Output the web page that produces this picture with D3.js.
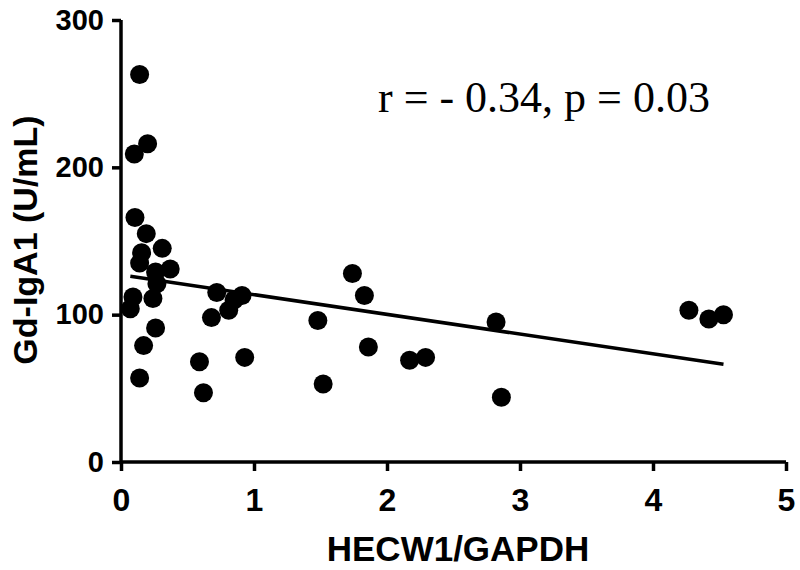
<!DOCTYPE html>
<html>
<head>
<meta charset="utf-8">
<script src="https://cdn.jsdelivr.net/npm/d3@7"></script>
<style>
  body { margin: 0; background: #fff; }
  svg text { fill: #000; }
</style>
</head>
<body>
<script>
// HECW1/GAPDH vs Gd-IgA1 values
var hecw1 = [0.14, 0.20, 0.10, 0.105, 0.19, 0.31, 0.155, 0.14, 0.37, 0.26,
             0.27, 0.24, 0.09, 0.07, 0.26, 0.17, 0.14, 0.59, 0.62, 0.72,
             0.91, 0.81, 0.68, 0.85, 0.93, 1.48, 1.52, 1.74, 1.83, 1.86,
             2.17, 2.29, 2.82, 2.86, 4.27, 4.42, 4.53];
var gdIgA1 = [263, 216, 209, 166, 155, 145, 142, 135, 131, 129,
              121, 111, 112, 104, 91, 79, 57, 68, 47, 115,
              113, 103, 98, 110, 71, 96, 53, 128, 113, 78,
              69, 71, 95, 44, 103, 97, 100];
var xTicks = [0, 1, 2, 3, 4, 5];
var yTicks = [0, 100, 200, 300];
var fitIntercept = 127;
var fitSlope = -13.4;
var statLabel = "r = - 0.34, p = 0.03";

var W = 800, H = 570;
var svg = d3.select("body").append("svg")
    .attr("width", W).attr("height", H);

var x = d3.scaleLinear().domain([0, 5]).range([121, 786]);
var y = d3.scaleLinear().domain([0, 300]).range([462, 20]);

// axes
var xAxis = svg.append("g")
    .attr("transform", "translate(0," + y(0) + ")")
    .call(d3.axisBottom(x).tickValues(xTicks).tickSize(9).tickPadding(17).tickFormat(d3.format("d")));
var yAxis = svg.append("g")
    .attr("transform", "translate(" + x(0) + ",0)")
    .call(d3.axisLeft(y).tickValues(yTicks).tickSize(9).tickPadding(8).tickFormat(d3.format("d")));

[xAxis, yAxis].forEach(function(a){
  a.select(".domain").attr("stroke", "#000").attr("stroke-width", 3.5);
  a.selectAll(".tick line").attr("stroke", "#000").attr("stroke-width", 3.5);
  a.selectAll(".tick text")
    .attr("font-family", "Liberation Sans, Arial, sans-serif")
    .attr("font-weight", "bold")
    .attr("font-size", 29)
    .attr("fill", "#000");
});
xAxis.selectAll(".tick text").attr("font-size", 32);
xAxis.select(".domain").attr("d", "M" + x(0) + ",0H" + x(5));
yAxis.select(".domain").attr("d", "M0," + y(0) + "V" + y(300));

// regression line
var xr = d3.extent(hecw1);
svg.append("line")
    .attr("x1", x(xr[0])).attr("y1", y(fitIntercept + fitSlope * xr[0]))
    .attr("x2", x(xr[1])).attr("y2", y(fitIntercept + fitSlope * xr[1]))
    .attr("stroke", "#000").attr("stroke-width", 3.5);

// points
svg.selectAll("circle.pt")
  .data(hecw1.map(function(d, i){ return [d, gdIgA1[i]]; }))
  .enter().append("circle")
    .attr("class", "pt")
    .attr("cx", function(d){ return x(d[0]); })
    .attr("cy", function(d){ return y(d[1]); })
    .attr("r", 9.5)
    .attr("fill", "#000");

// titles
svg.append("text")
    .attr("x", 458).attr("y", 561)
    .attr("text-anchor", "middle")
    .attr("font-family", "Liberation Sans, Arial, sans-serif")
    .attr("font-weight", "bold")
    .attr("font-size", 35)
    .text("HECW1/GAPDH");

svg.append("text")
    .attr("transform", "translate(37,240) rotate(-90)")
    .attr("text-anchor", "middle")
    .attr("font-family", "Liberation Sans, Arial, sans-serif")
    .attr("font-weight", "bold")
    .attr("font-size", 34)
    .text("Gd-IgA1 (U/mL)");

svg.append("text")
    .attr("x", 378).attr("y", 112)
    .attr("font-family", "Liberation Serif, Times New Roman, serif")
    .attr("font-size", 44)
    .text(statLabel);
</script>
</body>
</html>
